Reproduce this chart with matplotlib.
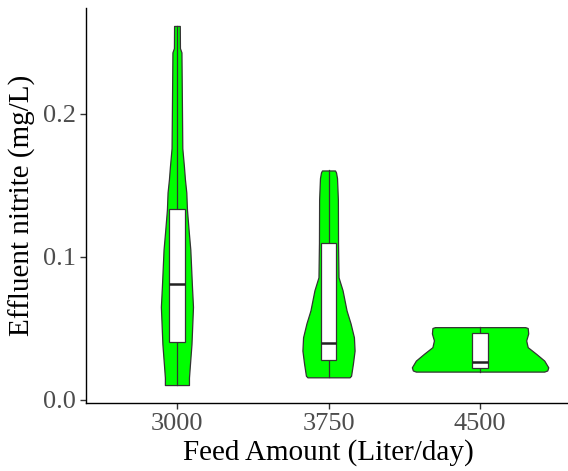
import matplotlib
matplotlib.use("Agg")
import matplotlib.pyplot as plt
import numpy as np

# Categories
categories = ["3000", "3750", "4500"]

# Violin profiles: value levels (mg/L) and relative density width
v1_levels = [0.0103, 0.0155, 0.025, 0.039, 0.065, 0.079, 0.105, 0.117, 0.133, 0.145, 0.154, 0.163, 0.176, 0.243, 0.246, 0.2615]
v1_dens   = [24, 24, 26, 29, 32, 30, 26.7, 23.7, 20, 18.7, 16, 14, 10.7, 9, 6, 5.7]
v2_levels = [0.0157, 0.0168, 0.0253, 0.0344, 0.0437, 0.0534, 0.0625, 0.0766, 0.0857, 0.110, 0.14, 0.155, 0.159, 0.1604]
v2_dens   = [42, 45, 48.7, 52, 50.7, 44, 36, 28, 20, 19, 18.7, 17, 15, 13]
v3_levels = [0.0197, 0.0205, 0.0227, 0.0274, 0.0321, 0.0368, 0.0415, 0.0464, 0.0502, 0.0508]
v3_dens   = [128, 134, 136, 128, 112, 95, 92, 96, 95, 90]

# Boxplot statistics: min, q1, median, q3, max
box_min = [0.0103, 0.0157, 0.0197]
box_q1 = [0.0405, 0.0279, 0.0220]
box_med = [0.0808, 0.0396, 0.0262]
box_q3 = [0.1333, 0.1098, 0.0468]
box_max = [0.2615, 0.1604, 0.0508]

levels = [v1_levels, v2_levels, v3_levels]
dens = [v1_dens, v2_dens, v3_dens]

plt.rcParams['font.family'] = ['Liberation Serif', 'DejaVu Serif']

fig = plt.figure(figsize=(5.68, 4.71), dpi=100)
ax = fig.add_axes([86/568, 68/471, (571-86)/568, (403-8)/471])

edge = "#333333"
maxd = max(max(d) for d in dens)
for i in range(3):
    c = i + 1
    y = np.array(levels[i])
    w = np.array(dens[i]) / maxd * 0.9 / 2
    ax.fill_betweenx(y, c - w, c + w, facecolor="#00FF00", edgecolor=edge, linewidth=0.9, zorder=2)
    # whiskers
    ax.plot([c, c], [box_min[i], box_q1[i]], color=edge, lw=0.9, zorder=3)
    ax.plot([c, c], [box_q3[i], box_max[i]], color=edge, lw=0.9, zorder=3)
    bw = 0.1
    ax.add_patch(plt.Rectangle((c - bw/2, box_q1[i]), bw, box_q3[i] - box_q1[i],
                               facecolor="white", edgecolor=edge, lw=0.9, zorder=4))
    ax.plot([c - bw/2, c + bw/2], [box_med[i], box_med[i]], color="#222222", lw=1.8, zorder=5, solid_capstyle="butt")

lo = min(box_min); hi = max(box_max)
pad = (hi - lo) * 0.05
ax.set_ylim(lo - pad, hi + pad)
ax.set_xlim(0.4, 3.6)
ax.set_xticks([1, 2, 3])
ax.set_xticklabels(categories)
ax.set_yticks([0.0, 0.1, 0.2])
ax.set_yticklabels(["0.0", "0.1", "0.2"])

for s in ["top", "right"]:
    ax.spines[s].set_visible(False)
for s in ["left", "bottom"]:
    ax.spines[s].set_color("black")
    ax.spines[s].set_linewidth(1.0)
ax.tick_params(axis="both", colors="#333333", labelcolor="#4D4D4D", labelsize=19, length=4, width=1.0, pad=3)

ax.set_xlabel("Feed Amount (Liter/day)", fontsize=21, color="black", labelpad=3)
ax.set_ylabel("Effluent nitrite (mg/L)", fontsize=21, color="black", labelpad=5)

fig.savefig("out.png", dpi=100)
